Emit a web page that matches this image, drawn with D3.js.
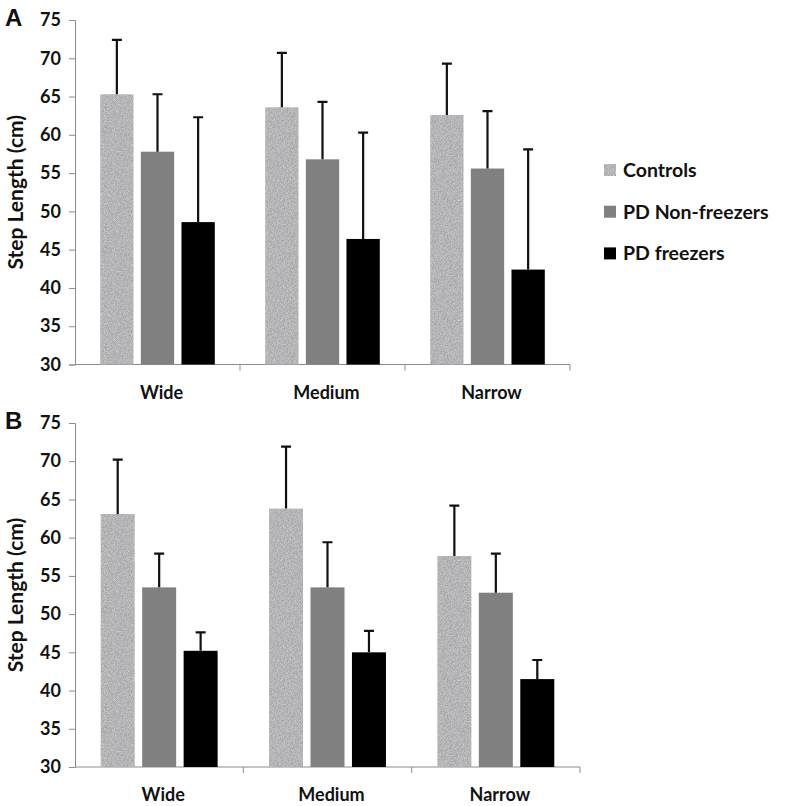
<!DOCTYPE html>
<meta charset="utf-8">
<head>
  <title>Step length bars</title>
</head>
<style>
  body { margin: 0; background: #fff; }
  text { font-family: Lato, "Open Sans", sans-serif; font-weight: 700; fill: #111; }
</style>
<body>
  <svg width="787" height="806"></svg>

  <script src="https://cdnjs.cloudflare.com/ajax/libs/d3/7.8.5/d3.min.js"></script>
  <script>
  // data
  var categories = ["Wide", "Medium", "Narrow"];
  var series = ["Controls", "PD Non-freezers", "PD freezers"];
  var yTicks = [30, 35, 40, 45, 50, 55, 60, 65, 70, 75];

  // panel A
  var aControls = [65.3, 63.6, 62.6];
  var aNonFreezers = [57.8, 56.8, 55.6];
  var aFreezers = [48.6, 46.4, 42.4];
  var aControlsSD = [7.1, 7.1, 6.7];
  var aNonFreezersSD = [7.5, 7.5, 7.5];
  var aFreezersSD = [13.7, 13.9, 15.7];

  // panel B
  var bControls = [63.1, 63.8, 57.6];
  var bNonFreezers = [53.5, 53.5, 52.8];
  var bFreezers = [45.2, 45.0, 41.5];
  var bControlsSD = [7.1, 8.1, 6.6];
  var bNonFreezersSD = [4.4, 5.9, 5.1];
  var bFreezersSD = [2.4, 2.8, 2.5];

  var colors = ['url(#speckle)', '#808080', '#000000'];

  var svg = d3.select('svg');

  // speckled grey fill for the controls bars
  var defs = svg.append('defs');
  var f = defs.append('filter').attr('id', 'noise')
    .attr('color-interpolation-filters', 'sRGB')
    .attr('x', 0).attr('y', 0).attr('width', '100%').attr('height', '100%');
  f.append('feTurbulence').attr('type', 'fractalNoise')
    .attr('baseFrequency', 1.3).attr('numOctaves', 2).attr('seed', 3).attr('result', 't');
  f.append('feColorMatrix').attr('in', 't').attr('type', 'matrix')
    .attr('values', '0.28 0 0 0 0.57  0.28 0 0 0 0.57  0.28 0 0 0 0.58  0 0 0 0 1')
    .attr('result', 'g');
  f.append('feComposite').attr('in', 'g').attr('in2', 'SourceGraphic').attr('operator', 'in');
  var pat = defs.append('pattern').attr('id', 'speckle')
    .attr('patternUnits', 'userSpaceOnUse').attr('width', 120).attr('height', 120);
  pat.append('rect').attr('width', 120).attr('height', 120).attr('fill', '#bcbcbc')
    .attr('filter', 'url(#noise)');

  function panel(letter, means, sds, x0, x1, yBottom, yTop) {
    var g = svg.append('g');

    var x = d3.scaleBand().domain(categories).range([x0, x1]);
    var xs = d3.scaleBand().domain(series).range([0, x.bandwidth()])
      .paddingInner(0.18).paddingOuter(0.62);
    var y = d3.scaleLinear().domain([30, 75]).range([yBottom, yTop]);

    // y axis
    var yAxis = g.append('g').attr('transform', 'translate(' + x0 + ',0)')
      .call(d3.axisLeft(y).tickValues(yTicks).tickSize(6).tickPadding(8));
    yAxis.select('.domain').attr('stroke', '#8c8c8c');
    yAxis.selectAll('.tick line').attr('stroke', '#8c8c8c');
    yAxis.selectAll('.tick text').style('font-size', '18px').attr('fill', '#111');

    // x axis with ticks at category boundaries
    var xAxis = g.append('g').attr('transform', 'translate(0,' + yBottom + ')');
    xAxis.append('line').attr('x1', x0).attr('x2', x1).attr('stroke', '#8c8c8c');
    xAxis.selectAll('.bd').data(categories).enter().append('line')
      .attr('x1', function(d) { return x(d) + x.bandwidth(); })
      .attr('x2', function(d) { return x(d) + x.bandwidth(); })
      .attr('y1', 0).attr('y2', 6).attr('stroke', '#8c8c8c');
    xAxis.selectAll('text').data(categories).enter().append('text')
      .attr('x', function(d) { return x(d) + x.bandwidth() / 2 + 4; })
      .attr('y', 34)
      .attr('text-anchor', 'middle')
      .style('font-size', '18px')
      .text(function(d) { return d; });

    // bars
    series.forEach(function(s, si) {
      var rows = categories.map(function(c, ci) {
        return { cat: c, v: means[si][ci], sd: sds[si][ci] };
      });
      var sg = g.append('g');
      sg.selectAll('rect').data(rows).enter().append('rect')
        .attr('x', function(d) { return x(d.cat) + xs(s); })
        .attr('width', xs.bandwidth())
        .attr('y', function(d) { return y(d.v); })
        .attr('height', function(d) { return y(30) - y(d.v); })
        .attr('fill', colors[si]);
      // upper error bars
      sg.selectAll('.err').data(rows).enter().append('path')
        .attr('d', function(d) {
          var cx = x(d.cat) + xs(s) + xs.bandwidth() / 2;
          return 'M' + cx + ',' + y(d.v) + 'V' + y(d.v + d.sd) +
            'M' + (cx - 5) + ',' + y(d.v + d.sd) + 'H' + (cx + 5);
        })
        .attr('stroke', '#111').attr('stroke-width', 2.2).attr('fill', 'none');
    });

    // y title
    g.append('text')
      .attr('transform', 'translate(23,' + ((yBottom + yTop) / 2) + ') rotate(-90)')
      .attr('text-anchor', 'middle')
      .style('font-size', '21px')
      .text('Step Length (cm)');

    // panel letter
    g.append('text')
      .attr('x', 5).attr('y', yTop + 6)
      .style('font-family', 'Liberation Sans, Arial, sans-serif')
      .style('font-size', '24px')
      .attr('fill', '#000')
      .text(letter);
  }

  panel('A', [aControls, aNonFreezers, aFreezers],
    [aControlsSD, aNonFreezersSD, aFreezersSD], 75, 570, 364.5, 20);
  panel('B', [bControls, bNonFreezers, bFreezers],
    [bControlsSD, bNonFreezersSD, bFreezersSD], 75, 580, 767, 423);

  // legend
  var legend = svg.append('g').attr('transform', 'translate(604,170)');
  series.forEach(function(s, i) {
    var row = legend.append('g').attr('transform', 'translate(0,' + (i * 41.7) + ')');
    row.append('rect').attr('x', 0).attr('y', -6).attr('width', 12).attr('height', 12)
      .attr('fill', colors[i]);
    row.append('text').attr('x', 19).attr('y', 7)
      .style('font-size', '19.5px')
      .text(s);
  });
  </script>
</body>
</html>
